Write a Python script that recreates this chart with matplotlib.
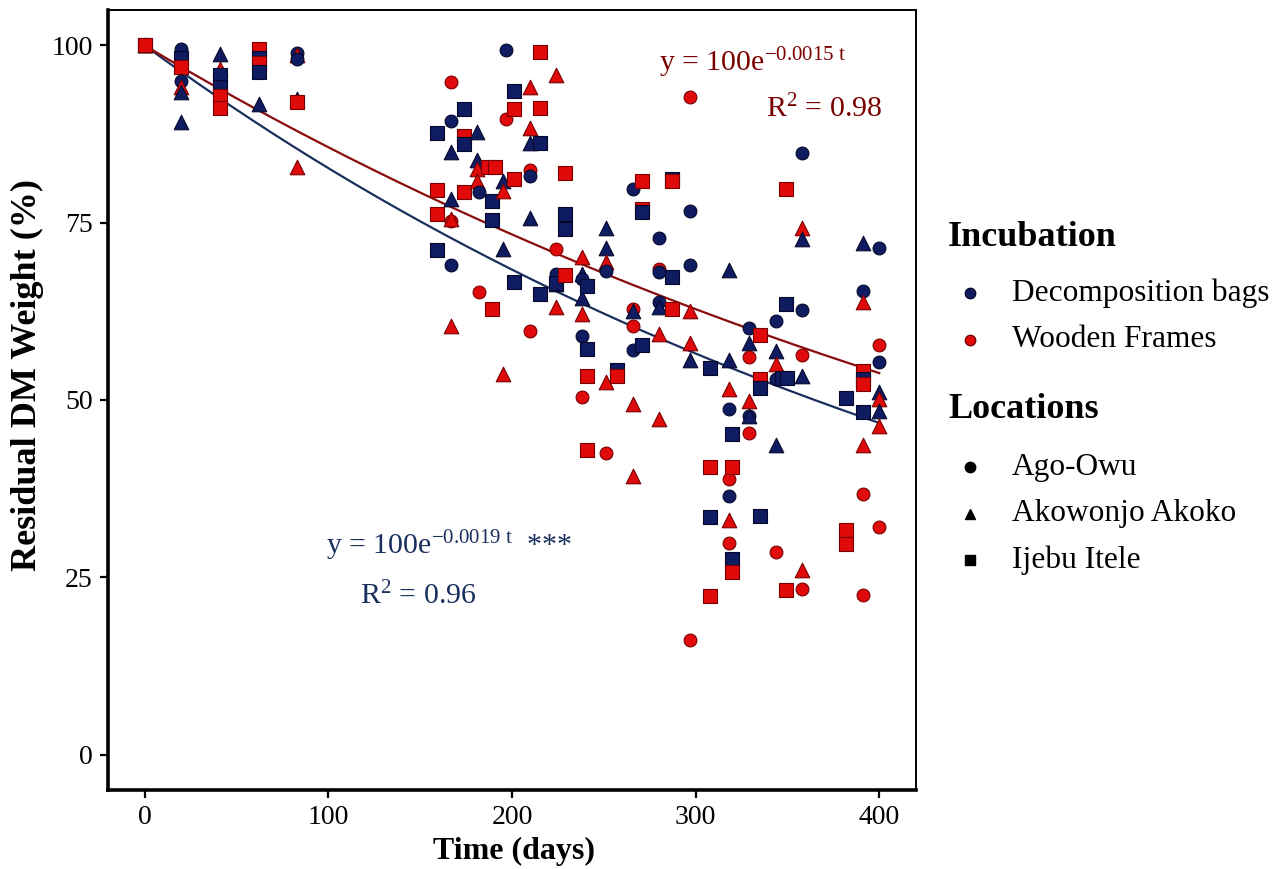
import matplotlib
matplotlib.use("Agg")
import matplotlib.pyplot as plt
import numpy as np
from matplotlib.lines import Line2D

plt.rcParams['font.family'] = ['Liberation Serif', 'DejaVu Serif']
plt.rcParams['mathtext.fontset'] = 'custom'
plt.rcParams['mathtext.rm'] = 'Liberation Serif'
plt.rcParams['mathtext.it'] = 'Liberation Serif:italic'
plt.rcParams['mathtext.bf'] = 'Liberation Serif:bold'

# ---- data: (day, residual %) by incubation (D = Decomposition bags, W = Wooden Frames)
# and location (A = Ago-Owu, K = Akowonjo Akoko, I = Ijebu Itele)
days = [0, 0, 0, 0, 0, 0,
        20, 20, 20, 20, 20, 20, 20,
        41, 41, 41, 41, 41, 41,
        62, 62, 62, 62, 62,
        83, 83, 83, 83, 83, 83,
        159, 159, 159, 159,
        167, 167, 167, 167, 167, 167, 167, 167,
        174, 174, 174, 174,
        181, 181, 181, 181, 182, 182,
        187, 191, 189, 189, 189,
        195, 195, 195, 195,
        197, 197,
        201, 201, 201, 201,
        210, 210, 210, 210, 210, 210, 210,
        215, 215, 215, 215,
        224, 224, 224, 224, 224, 224,
        229, 229, 229, 229,
        238, 238, 238, 238, 238, 238, 238,
        241, 241, 241, 241,
        251, 251, 251, 251, 251, 251,
        257, 257,
        266, 266, 266, 266, 266, 266, 266,
        271, 271, 271, 271,
        280, 280, 280, 280, 280, 280, 280,
        287, 287, 287, 287,
        297, 297, 297, 297, 297, 297, 297,
        308, 308, 308, 308,
        318, 318, 318, 318, 318, 318, 318, 318,
        320, 320, 320, 320,
        329, 329, 329, 329, 329, 329, 329,
        335, 335, 335, 335,
        344, 344, 344, 344, 344, 344,
        349, 349, 347, 350, 349,
        358, 358, 358, 358, 358, 358, 358, 358,
        382, 382, 382,
        391, 391, 391, 391, 391, 391, 391, 391, 391, 391,
        400, 400, 400, 400, 400, 400, 400, 400]
weight = [100, 100, 100, 100, 100, 100,
          99.5, 98.3, 97.0, 95.0, 94.1, 93.5, 89.2,
          98.8, 96.7, 95.8, 94.2, 92.9, 91.2,
          99.5, 98.3, 97.5, 96.3, 91.8,
          99.0, 98.6, 98.1, 92.5, 92.0, 82.8,
          87.7, 79.6, 76.3, 71.2,
          94.8, 89.4, 85.0, 78.3, 75.3, 75.5, 69.1, 60.5,
          91.0, 87.3, 86.1, 79.4,
          87.8, 83.9, 82.6, 80.9, 79.3, 65.3,
          82.8, 82.8, 78.1, 75.4, 62.9,
          71.3, 53.6, 80.9, 79.5,
          99.4, 89.6,
          93.6, 91.0, 81.1, 66.7,
          94.1, 88.4, 86.3, 82.5, 81.6, 75.6, 59.7,
          99.1, 91.2, 86.2, 64.9,
          95.8, 71.3, 67.8, 66.3, 66.5, 63.1,
          82.0, 76.2, 74.1, 67.6,
          70.2, 67.7, 67.0, 64.4, 62.1, 59.0, 50.4,
          66.1, 57.2, 53.4, 43.0,
          74.3, 71.5, 69.4, 68.2, 52.5, 42.5,
          54.3, 53.4,
          79.7, 62.9, 62.5, 60.5, 57.0, 49.4, 39.3,
          80.9, 76.9, 76.5, 57.8,
          72.9, 68.5, 68.0, 63.8, 63.1, 59.3, 47.3,
          81.2, 80.9, 67.3, 62.9,
          92.7, 76.7, 69.1, 62.6, 58.0, 55.6, 16.2,
          54.5, 40.6, 33.5, 22.4,
          68.4, 55.6, 51.5, 48.7, 38.9, 36.4, 33.1, 29.8,
          45.2, 40.6, 27.6, 25.8,
          60.2, 58.0, 56.0, 49.9, 47.8, 47.8, 45.3,
          59.2, 52.9, 51.7, 33.7,
          61.2, 56.9, 55.1, 52.9, 43.6, 28.5,
          63.6, 79.7, 53.1, 53.1, 23.2,
          84.9, 74.3, 72.7, 62.7, 56.3, 53.4, 26.0, 23.4,
          50.3, 31.6, 29.7,
          72.2, 65.4, 63.8, 54.1, 53.0, 52.2, 48.3, 43.6, 36.7, 22.5,
          71.5, 57.8, 55.3, 51.1, 50.1, 48.4, 46.3, 32.1]
incubation = ['D', 'W', 'D', 'W', 'D', 'W',
              'D', 'D', 'W', 'D', 'W', 'D', 'D',
              'D', 'W', 'D', 'D', 'W', 'W',
              'W', 'D', 'W', 'D', 'D',
              'D', 'W', 'D', 'D', 'W', 'W',
              'D', 'W', 'W', 'D',
              'W', 'D', 'D', 'D', 'W', 'W', 'D', 'W',
              'D', 'W', 'D', 'W',
              'D', 'D', 'W', 'W', 'D', 'W',
              'W', 'W', 'D', 'D', 'W',
              'D', 'W', 'D', 'W',
              'D', 'W',
              'D', 'W', 'W', 'D',
              'W', 'W', 'D', 'W', 'D', 'D', 'W',
              'W', 'W', 'D', 'D',
              'W', 'W', 'D', 'D', 'D', 'W',
              'W', 'D', 'D', 'W',
              'W', 'D', 'D', 'D', 'W', 'D', 'W',
              'D', 'D', 'W', 'W',
              'D', 'D', 'W', 'D', 'W', 'W',
              'D', 'W',
              'D', 'W', 'D', 'W', 'D', 'W', 'W',
              'W', 'W', 'D', 'D',
              'D', 'W', 'D', 'D', 'D', 'W', 'W',
              'D', 'W', 'D', 'W',
              'W', 'D', 'D', 'W', 'W', 'D', 'W',
              'D', 'W', 'D', 'W',
              'D', 'D', 'W', 'D', 'W', 'D', 'W', 'W',
              'D', 'W', 'D', 'W',
              'D', 'D', 'W', 'W', 'D', 'D', 'W',
              'W', 'W', 'D', 'D',
              'D', 'D', 'W', 'D', 'D', 'W',
              'D', 'W', 'D', 'D', 'W',
              'D', 'W', 'D', 'D', 'W', 'D', 'W', 'W',
              'D', 'W', 'W',
              'D', 'D', 'W', 'W', 'D', 'W', 'D', 'W', 'W', 'W',
              'D', 'W', 'D', 'D', 'W', 'D', 'W', 'W']
location = ['A', 'A', 'K', 'K', 'I', 'I',
            'A', 'I', 'I', 'A', 'K', 'K', 'K',
            'K', 'K', 'I', 'I', 'I', 'I',
            'I', 'I', 'I', 'I', 'K',
            'A', 'K', 'A', 'K', 'I', 'K',
            'I', 'I', 'I', 'I',
            'A', 'A', 'K', 'K', 'A', 'K', 'A', 'K',
            'I', 'I', 'I', 'I',
            'K', 'K', 'K', 'K', 'A', 'A',
            'I', 'I', 'I', 'I', 'I',
            'K', 'K', 'K', 'K',
            'A', 'A',
            'I', 'I', 'I', 'I',
            'K', 'K', 'K', 'A', 'A', 'K', 'A',
            'I', 'I', 'I', 'I',
            'K', 'A', 'A', 'K', 'I', 'K',
            'I', 'I', 'I', 'I',
            'K', 'K', 'A', 'K', 'K', 'A', 'A',
            'I', 'I', 'I', 'I',
            'K', 'K', 'K', 'A', 'K', 'A',
            'I', 'I',
            'A', 'A', 'K', 'A', 'A', 'K', 'K',
            'I', 'I', 'I', 'I',
            'A', 'A', 'A', 'A', 'K', 'K', 'K',
            'I', 'I', 'I', 'I',
            'A', 'A', 'A', 'K', 'K', 'K', 'A',
            'I', 'I', 'I', 'I',
            'K', 'K', 'K', 'A', 'A', 'A', 'K', 'A',
            'I', 'I', 'I', 'I',
            'A', 'K', 'A', 'K', 'A', 'K', 'A',
            'I', 'I', 'I', 'I',
            'A', 'K', 'K', 'A', 'K', 'A',
            'I', 'I', 'I', 'I', 'I',
            'A', 'K', 'K', 'A', 'A', 'K', 'K', 'A',
            'I', 'I', 'I',
            'K', 'A', 'K', 'I', 'I', 'I', 'I', 'K', 'A', 'A',
            'A', 'A', 'A', 'K', 'K', 'K', 'K', 'A']

# fitted decay rates (y = 100 e^{-k t})
k_bags = 0.0019
k_frames = 0.00155

inc_names = {'D': 'Decomposition bags', 'W': 'Wooden Frames'}
loc_names = {'A': 'Ago-Owu', 'K': 'Akowonjo Akoko', 'I': 'Ijebu Itele'}

fill = {'D': '#101c62', 'W': '#e00a0a'}
edge = {'D': '#05082a', 'W': '#7a0000'}
shape = {'A': 'o', 'K': '^', 'I': 's'}
size = {'A': 85, 'K': 110, 'I': 90}

fig = plt.figure(figsize=(12.86, 8.69), dpi=100)
ax = fig.add_axes([108/1286, 1-790/869, (916-108)/1286, (790-10)/869])

days_a = np.array(days, float)
w_a = np.array(weight, float)
inc_a = np.array(incubation)
loc_a = np.array(location)

tt = np.linspace(0, 400, 200)
ax.plot(tt, 100*np.exp(-k_bags*tt), color='#1b2f5e', lw=1.6, zorder=3)
ax.plot(tt, 100*np.exp(-k_frames*tt), color='#8a0b0b', lw=1.6, zorder=3)

for i in range(len(days_a)):
    ax.scatter(days_a[i], w_a[i], marker=shape[loc_a[i]], s=size[loc_a[i]],
               facecolor=fill[inc_a[i]], edgecolor=edge[inc_a[i]], linewidths=0.8,
               zorder=4)

ax.set_xlim(-20, 420)
ax.set_ylim(-5, 105)
ax.set_xticks([0, 100, 200, 300, 400])
ax.set_yticks([0, 25, 50, 75, 100])
ax.tick_params(axis='both', labelsize=20, length=6, width=1.6, direction='out',
               colors='black', pad=5)
for s in ['left', 'bottom']:
    ax.spines[s].set_linewidth(2.6)
for s in ['top', 'right']:
    ax.spines[s].set_linewidth(1.4)

ax.set_xlabel('Time (days)', fontsize=23, fontweight='bold')
ax.set_ylabel('Residual DM Weight (%)', fontsize=26, fontweight='bold', va='center')
ax.xaxis.set_label_coords(0.502, -0.060)
ax.yaxis.set_label_coords(-0.100, 0.532)

red_txt = '#7a0000'
navy_txt = '#1a2f5e'
ax.text(331, 97.6, r'y = 100e$^{\mathrm{-0.0015\ t}}$', color=red_txt, fontsize=21.5,
        ha='center', va='center')
ax.text(370, 91.1, r'R$^{2}$ = 0.98', color=red_txt, fontsize=21.5, ha='center', va='center')
ax.text(166, 29.4, r'y = 100e$^{\mathrm{-0.0019\ t}}$  ***', color=navy_txt, fontsize=21.5,
        ha='center', va='center')
ax.text(149, 22.3, r'R$^{2}$ = 0.96', color=navy_txt, fontsize=21.5, ha='center', va='center')

# legend
def fx(px):
    return px / 1286
def fy(py):
    return 1 - py / 869

fig.text(fx(948), fy(237), 'Incubation', fontsize=26, fontweight='bold', va='center', ha='left')
for py, k in [(293, 'D'), (340, 'W')]:
    fig.add_artist(Line2D([fx(970)], [fy(py)], marker='o', markersize=7.5,
                          markerfacecolor=fill[k], markeredgecolor=edge[k], linestyle='none'))
    fig.text(fx(1012), fy(py), inc_names[k], fontsize=22.6, va='center', ha='left')

fig.text(fx(948), fy(410), 'Locations', fontsize=26, fontweight='bold', va='center', ha='left')
for py, k in [(467, 'A'), (514, 'K'), (560, 'I')]:
    fig.add_artist(Line2D([fx(970)], [fy(py)], marker=shape[k], markersize=7.5,
                          markerfacecolor='black', markeredgecolor='black', linestyle='none'))
    fig.text(fx(1012), fy(py), loc_names[k], fontsize=22.6, va='center', ha='left')

fig.savefig('out.png', dpi=100)
